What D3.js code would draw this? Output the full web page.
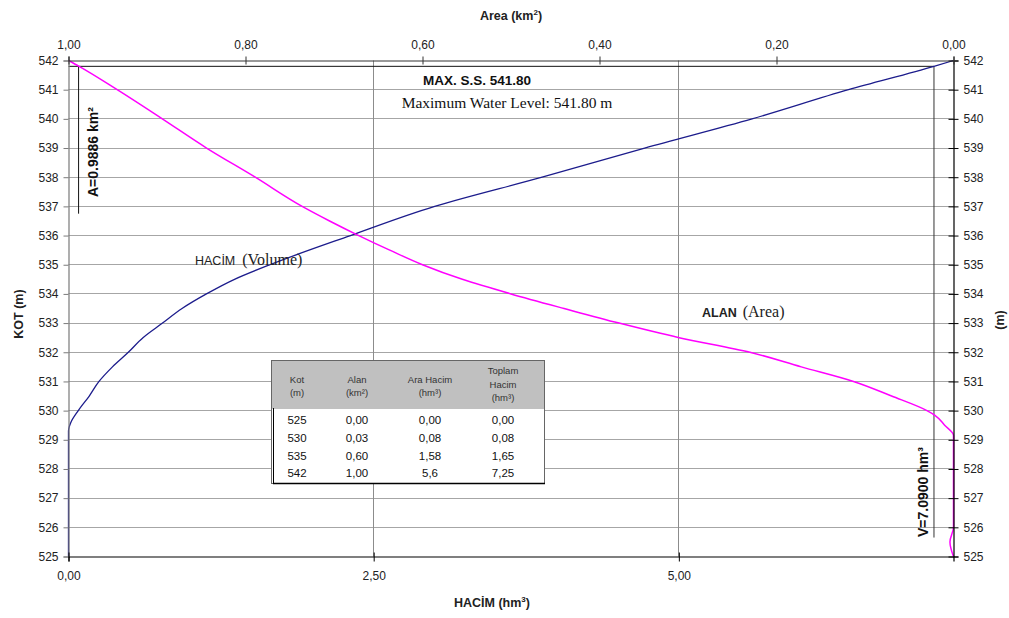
<!DOCTYPE html>
<html>
<head>
<meta charset="utf-8">
<script src="https://cdn.jsdelivr.net/npm/d3@7"></script>
<style>
  body { margin: 0; background: #fff; }
  text { font-family: "Liberation Sans", Arial, sans-serif; }
  .serif { font-family: "Liberation Serif", "Times New Roman", serif; }
</style>
</head>
<body>
<div id="chart"></div>
<script>
// elevation (KOT) vs volume (HACIM)
var volKot = [525, 526, 529.3, 529.6, 530, 530.5, 531, 531.5, 532, 532.5, 533, 533.5, 534, 534.5, 535, 536, 537, 538, 539, 540, 541, 541.8, 542];
var volValues = [0, 0, 0, 0.02, 0.08, 0.17, 0.25, 0.36, 0.49, 0.61, 0.77, 0.93, 1.13, 1.36, 1.65, 2.31, 3.0, 3.88, 4.72, 5.60, 6.39, 7.09, 7.25];

// elevation (KOT) vs area (ALAN)
var areaKot = [525, 525.5, 526, 529.15, 529.5, 529.84, 530, 530.5, 531, 531.5, 532, 532.5, 533, 533.5, 534, 534.5, 535, 535.5, 536, 536.5, 537, 538, 539, 540, 541, 541.8, 542];
var areaValues = [0, 0.004, 0, 0, 0.01, 0.021, 0.03, 0.07, 0.113, 0.172, 0.23, 0.31, 0.378, 0.44, 0.50, 0.555, 0.60, 0.637, 0.672, 0.705, 0.736, 0.789, 0.844, 0.894, 0.945, 0.988, 1.0];

var kotTicks = d3.range(525, 543);
var volTicks = [0, 2.5, 5];
var areaTicks = [1, 0.8, 0.6, 0.4, 0.2, 0];

// summary table
var tableHeader = [["Kot", "(m)"], ["Alan", "(km²)"], ["Ara Hacim", "(hm³)"], ["Toplam", "Hacim", "(hm³)"]];
var tableKot = ["525", "530", "535", "542"];
var tableAlan = ["0,00", "0,03", "0,60", "1,00"];
var tableAraHacim = ["0,00", "0,08", "1,58", "5,6"];
var tableToplam = ["0,00", "0,08", "1,65", "7,25"];

var maxLevel = 541.8;
var maxArea = 0.9886;
var maxVol = 7.09;

var svgWidth = 1009;
var svgHeight = 618;
var margin = { top: 60, right: 56, bottom: 62, left: 68 };
var width = 885;
var height = 496;

var svg = d3.select("#chart").append("svg")
  .attr("width", svgWidth)
  .attr("height", svgHeight);

var g = svg.append("g")
  .attr("transform", `translate(${margin.left + 0.5}, ${margin.top + 0.5})`);

var yScale = d3.scaleLinear().domain([525, 542]).range([height, 0]);
var xVol = d3.scaleLinear().domain([0, 7.25]).range([0, width]);
var xArea = d3.scaleLinear().domain([1, 0]).range([0, width]);

var comma = d => d3.format(".2f")(d).replace(".", ",");

// horizontal gridlines
g.selectAll(".hgrid")
  .data(kotTicks.filter(d => d > 525 && d < 542))
  .enter().append("line")
  .attr("x1", 0).attr("x2", width)
  .attr("y1", d => Math.round(yScale(d))).attr("y2", d => Math.round(yScale(d)))
  .attr("stroke", "#a6a6a6");

// vertical gridlines
g.selectAll(".vgrid")
  .data(volTicks.filter(d => d > 0))
  .enter().append("line")
  .attr("x1", d => Math.round(xVol(d))).attr("x2", d => Math.round(xVol(d)))
  .attr("y1", 0).attr("y2", height)
  .attr("stroke", "#8c8c8c");

// max level marker lines
g.append("line")
  .attr("x1", 0).attr("x2", xVol(maxVol))
  .attr("y1", yScale(maxLevel)).attr("y2", yScale(maxLevel))
  .attr("stroke", "#111");
g.append("line")
  .attr("x1", xArea(maxArea)).attr("x2", xArea(maxArea))
  .attr("y1", yScale(maxLevel)).attr("y2", yScale(536.75))
  .attr("stroke", "#111");
g.append("line")
  .attr("x1", xVol(maxVol)).attr("x2", xVol(maxVol))
  .attr("y1", yScale(maxLevel)).attr("y2", yScale(525.65))
  .attr("stroke", "#333");

// curves
var volLine = d3.line()
  .x(d => xVol(d[0]))
  .y(d => yScale(d[1]))
  .curve(d3.curveMonotoneY);
var areaLine = d3.line()
  .x(d => xArea(d[0]))
  .y(d => yScale(d[1]))
  .curve(d3.curveMonotoneY);

g.append("path")
  .datum(d3.zip(volValues, volKot))
  .attr("d", volLine)
  .attr("fill", "none")
  .attr("stroke", "#1c1c8c")
  .attr("stroke-width", 1.3);

g.append("path")
  .datum(d3.zip(areaValues, areaKot))
  .attr("d", areaLine)
  .attr("fill", "none")
  .attr("stroke", "#ff00ff")
  .attr("stroke-width", 1.5);

// axes (drawn over the curves)
var leftAxis = d3.axisLeft(yScale).tickValues(kotTicks).tickSize(5).tickPadding(5).tickFormat(d3.format("d"));
var rightAxis = d3.axisRight(yScale).tickValues(kotTicks).tickSize(5).tickPadding(5).tickFormat(d3.format("d"));
var bottomAxis = d3.axisBottom(xVol).tickValues(volTicks).tickSize(5).tickPadding(10).tickFormat(comma);
var topAxis = d3.axisTop(xArea).tickValues(areaTicks).tickSize(4).tickPadding(8).tickFormat(comma);

function styleAxis(sel, col) {
  sel.select(".domain").attr("stroke", col).attr("stroke-width", 1.2);
  sel.selectAll(".tick line").attr("stroke", col);
  sel.selectAll("text").attr("font-size", 12).attr("fill", "#222")
    .attr("font-family", "Liberation Sans, Arial, sans-serif");
}

g.append("g").call(leftAxis).call(s => styleAxis(s, "#7a7a7a"));

var ra = g.append("g").attr("transform", `translate(${width},0)`).call(rightAxis);
styleAxis(ra, "#000");
ra.selectAll(".tick line").attr("x1", -5);

var ba = g.append("g").attr("transform", `translate(0,${height})`).call(bottomAxis);
styleAxis(ba, "#000");
ba.selectAll(".tick line").attr("y1", -4);

var ta = g.append("g").call(topAxis);
styleAxis(ta, "#333");
ta.selectAll(".tick line").attr("y2", 4).attr("y1", -4);

// rotated marker labels
svg.append("text")
  .attr("transform", "translate(98,197) rotate(-90)")
  .attr("font-size", 14).attr("font-weight", "bold").attr("fill", "#111")
  .text("A=0.9886 km²");
svg.append("text")
  .attr("transform", "translate(928,537) rotate(-90)")
  .attr("font-size", 14).attr("font-weight", "bold").attr("fill", "#111")
  .text("V=7.0900 hm³");

// annotations
svg.append("text")
  .attr("x", 477).attr("y", 85)
  .attr("text-anchor", "middle")
  .attr("font-size", 13.5).attr("font-weight", "bold").attr("fill", "#111")
  .text("MAX. S.S. 541.80");
svg.append("text")
  .attr("class", "serif")
  .attr("x", 507).attr("y", 108)
  .attr("text-anchor", "middle")
  .attr("font-size", 15.5).attr("fill", "#111")
  .text("Maximum Water Level: 541.80 m");

var hacimLbl = svg.append("text").attr("x", 195).attr("y", 265).attr("fill", "#222");
hacimLbl.append("tspan").attr("font-size", 12.5).text("HACİM");
hacimLbl.append("tspan").attr("class", "serif").attr("font-size", 16).attr("dx", 7).text("(Volume)");

var alanLbl = svg.append("text").attr("x", 702).attr("y", 317).attr("fill", "#222");
alanLbl.append("tspan").attr("font-size", 12.5).attr("font-weight", "bold").text("ALAN");
alanLbl.append("tspan").attr("class", "serif").attr("font-size", 16).attr("dx", 6).text("(Area)");

// axis titles
var topTitle = svg.append("text")
  .attr("x", 511).attr("y", 20)
  .attr("text-anchor", "middle")
  .attr("font-size", 12.5).attr("font-weight", "bold").attr("fill", "#222");
topTitle.append("tspan").text("Area (km");
topTitle.append("tspan").attr("font-size", 8).attr("dy", -5).text("2");
topTitle.append("tspan").attr("dy", 5).text(")");

var bottomTitle = svg.append("text")
  .attr("x", 492).attr("y", 607)
  .attr("text-anchor", "middle")
  .attr("font-size", 12.5).attr("font-weight", "bold").attr("fill", "#222");
bottomTitle.append("tspan").text("HACİM (hm");
bottomTitle.append("tspan").attr("font-size", 8).attr("dy", -5).text("3");
bottomTitle.append("tspan").attr("dy", 5).text(")");

svg.append("text")
  .attr("transform", "translate(23,314) rotate(-90)")
  .attr("text-anchor", "middle")
  .attr("font-size", 12.5).attr("font-weight", "bold").attr("fill", "#222")
  .text("KOT (m)");
svg.append("text")
  .attr("transform", "translate(1004,320) rotate(-90)")
  .attr("text-anchor", "middle")
  .attr("font-size", 12.5).attr("font-weight", "bold").attr("fill", "#222")
  .text("(m)");

// table
var tb = { x: 271, y: 360, w: 273, h: 123, headH: 48 };
var colX = [297, 357, 430, 503];
var rowY = [424, 442, 460, 477];

var table = svg.append("g");
table.append("rect")
  .attr("x", tb.x + 0.5).attr("y", tb.y + 0.5)
  .attr("width", tb.w).attr("height", tb.h)
  .attr("fill", "#fff").attr("stroke", "#666");
table.append("rect")
  .attr("x", tb.x + 1).attr("y", tb.y + 1)
  .attr("width", tb.w - 1).attr("height", tb.headH)
  .attr("fill", "#c0c0c0");
table.append("line")
  .attr("x1", tb.x + 2.5).attr("x2", tb.x + 2.5)
  .attr("y1", tb.y + tb.headH).attr("y2", tb.y + tb.h)
  .attr("stroke", "#000");
table.append("line")
  .attr("x1", tb.x + 2).attr("x2", tb.x + tb.w + 1)
  .attr("y1", tb.y + tb.h + 0.5).attr("y2", tb.y + tb.h + 0.5)
  .attr("stroke", "#000").attr("stroke-width", 1.5);

tableHeader.forEach(function(lines, i) {
  var startY = lines.length === 3 ? 374 : 383;
  var step = lines.length === 3 ? 13.5 : 12.5;
  var t = table.append("text")
    .attr("text-anchor", "middle")
    .attr("font-size", 9.5).attr("fill", "#333");
  lines.forEach(function(l, j) {
    t.append("tspan").attr("x", colX[i]).attr("y", startY + j * step).text(l);
  });
});

[tableKot, tableAlan, tableAraHacim, tableToplam].forEach(function(col, i) {
  table.selectAll(null)
    .data(col)
    .enter().append("text")
    .attr("x", colX[i])
    .attr("y", (d, j) => rowY[j])
    .attr("text-anchor", "middle")
    .attr("font-size", 11.5).attr("fill", "#111")
    .text(d => d);
});
</script>
</body>
</html>
